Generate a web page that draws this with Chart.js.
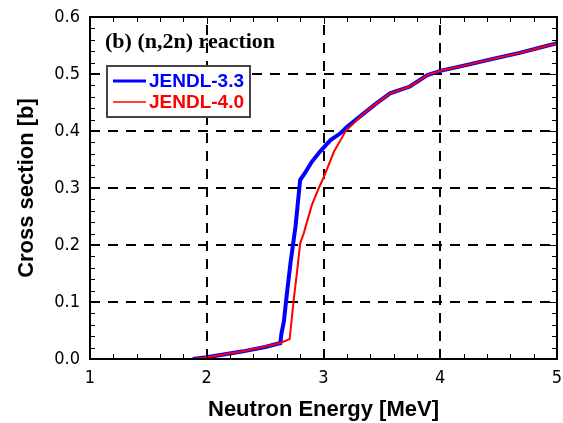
<!DOCTYPE html>
<html>
<head>
<meta charset="utf-8">
<script src="https://cdn.jsdelivr.net/npm/chart.js@4/dist/chart.umd.min.js"></script>
<style>
  html, body { margin: 0; padding: 0; background: #fff; }
  #wrap { width: 563px; height: 423px; }
</style>
</head>
<body>
<div id="wrap"><canvas id="xs" width="563" height="423"></canvas></div>
<script>
// JENDL-3.3 (n,2n) cross section
const eJ33  = [1.88, 2.0, 2.3, 2.5, 2.63, 2.64, 2.66, 2.69, 2.717, 2.76, 2.78, 2.80, 2.84, 2.90, 2.97, 3.06, 3.145, 3.20, 3.34, 3.45, 3.57, 3.74, 3.89, 4.01, 4.23, 4.46, 4.68, 5.0];
const xsJ33 = [0.0, 0.003, 0.013, 0.021, 0.028, 0.045, 0.065, 0.121, 0.168, 0.232, 0.273, 0.314, 0.326, 0.346, 0.364, 0.384, 0.396, 0.407, 0.430, 0.448, 0.466, 0.478, 0.498, 0.506, 0.516, 0.527, 0.537, 0.554];

// JENDL-4.0 (n,2n) cross section
const eJ40  = [1.88, 2.0, 2.3, 2.55, 2.63, 2.71, 2.745, 2.775, 2.80, 2.83, 2.90, 2.96, 3.0, 3.09, 3.19, 3.34, 3.45, 3.57, 3.74, 3.89, 4.01, 4.23, 4.46, 4.68, 5.0];
const xsJ40 = [0.0, 0.003, 0.013, 0.024, 0.028, 0.035, 0.104, 0.156, 0.203, 0.220, 0.270, 0.300, 0.318, 0.364, 0.400, 0.430, 0.448, 0.466, 0.478, 0.498, 0.506, 0.516, 0.527, 0.537, 0.554];

const xMajor = [1, 2, 3, 4, 5];
const yMajor = [0, 0.1, 0.2, 0.3, 0.4, 0.5, 0.6];

const narrow = '"Liberation Sans Narrow", "DejaVu Sans Condensed", "Liberation Sans", Arial, sans-serif';
const sans = '"Liberation Sans", Arial, sans-serif';

const toPts = (xs, ys) => xs.map((x, i) => ({ x: x, y: ys[i] }));

// dashed grid, inward ticks, frame, legend box and panel label
const framePlugin = {
  id: 'frame',
  beforeDatasetsDraw(chart) {
    const { ctx, chartArea: a, scales: { x, y } } = chart;
    ctx.save();
    ctx.strokeStyle = '#000';
    ctx.lineWidth = 2;
    ctx.setLineDash([10, 8]);
    xMajor.slice(1, -1).forEach(v => {
      const px = Math.round(x.getPixelForValue(v));
      ctx.beginPath(); ctx.moveTo(px, a.bottom); ctx.lineTo(px, a.top); ctx.stroke();
    });
    yMajor.slice(1, -1).forEach(v => {
      const py = Math.round(y.getPixelForValue(v));
      ctx.beginPath(); ctx.moveTo(a.left, py); ctx.lineTo(a.right, py); ctx.stroke();
    });
    ctx.restore();
  },
  afterDatasetsDraw(chart) {
    const { ctx, chartArea: a, scales: { x, y } } = chart;
    ctx.save();
    ctx.strokeStyle = '#000';
    ctx.lineWidth = 1;
    for (let i = 0; i <= 20; i++) {
      const px = Math.round(x.getPixelForValue(1 + i * 0.2)) + 0.5;
      const len = i % 5 === 0 ? 7 : 5;
      ctx.beginPath();
      ctx.moveTo(px, a.bottom); ctx.lineTo(px, a.bottom - len);
      ctx.moveTo(px, a.top); ctx.lineTo(px, a.top + len);
      ctx.stroke();
    }
    for (let i = 0; i <= 30; i++) {
      const py = Math.round(y.getPixelForValue(i * 0.02)) + 0.5;
      const len = i % 5 === 0 ? 7 : 5;
      ctx.beginPath();
      ctx.moveTo(a.left, py); ctx.lineTo(a.left + len, py);
      ctx.moveTo(a.right, py); ctx.lineTo(a.right - len, py);
      ctx.stroke();
    }
    ctx.lineWidth = 2;
    ctx.strokeRect(a.left, a.top, a.right - a.left, a.bottom - a.top);

    // panel label
    ctx.fillStyle = '#000';
    ctx.font = 'bold 22px "Liberation Serif", "Times New Roman", serif';
    ctx.textBaseline = 'alphabetic';
    ctx.fillText('(b) (n,2n) reaction', 105, 48);

    // legend
    ctx.fillStyle = '#fff';
    ctx.fillRect(107, 66, 143, 51);
    ctx.strokeStyle = '#444';
    ctx.lineWidth = 2;
    ctx.strokeRect(107, 66, 143, 51);
    chart.data.datasets.forEach((ds, i) => {
      const ly = 81 + i * 21;
      ctx.strokeStyle = ds.borderColor;
      ctx.lineWidth = i === 0 ? 3 : 1.5;
      ctx.beginPath(); ctx.moveTo(113, ly); ctx.lineTo(146, ly); ctx.stroke();
      ctx.fillStyle = ds.borderColor;
      ctx.font = 'bold 19px ' + sans;
      ctx.textBaseline = 'middle';
      ctx.fillText(ds.label, 149, ly + 1);
    });
    ctx.restore();
  }
};

new Chart(document.getElementById('xs'), {
  type: 'scatter',
  data: {
    datasets: [
      { label: 'JENDL-3.3', data: toPts(eJ33, xsJ33), showLine: true, borderColor: '#0000ff',
        borderWidth: 4, pointRadius: 0, tension: 0, order: 2 },
      { label: 'JENDL-4.0', data: toPts(eJ40, xsJ40), showLine: true, borderColor: '#ff0000',
        borderWidth: 2, pointRadius: 0, tension: 0, order: 1 }
    ]
  },
  options: {
    responsive: false,
    animation: false,
    layout: { padding: { top: 17, right: 6, left: 0, bottom: 0 } },
    plugins: { legend: { display: false }, tooltip: { enabled: false } },
    scales: {
      x: {
        type: 'linear', min: 1, max: 5,
        afterFit: s => { s.height = 64; s.paddingLeft = 0; s.paddingRight = 0; },
        ticks: { stepSize: 1, color: '#000', padding: 9, font: { family: narrow, size: 18 } },
        grid: { display: false, drawTicks: false },
        border: { display: false },
        title: { display: true, text: 'Neutron Energy [MeV]', color: '#000',
                 font: { family: sans, size: 22, weight: 'bold' }, padding: { top: 0, bottom: 0 } }
      },
      y: {
        type: 'linear', min: 0, max: 0.6,
        afterFit: s => { s.width = 90; s.paddingTop = 0; s.paddingBottom = 0; },
        ticks: { stepSize: 0.1, color: '#000', padding: 10, font: { family: narrow, size: 18 },
                 callback: v => v.toFixed(1) },
        grid: { display: false, drawTicks: false },
        border: { display: false },
        title: { display: true, text: 'Cross section [b]', color: '#000',
                 font: { family: sans, size: 22, weight: 'bold' }, padding: { top: 14, bottom: 0 } }
      }
    }
  },
  plugins: [framePlugin]
});
</script>
</body>
</html>
